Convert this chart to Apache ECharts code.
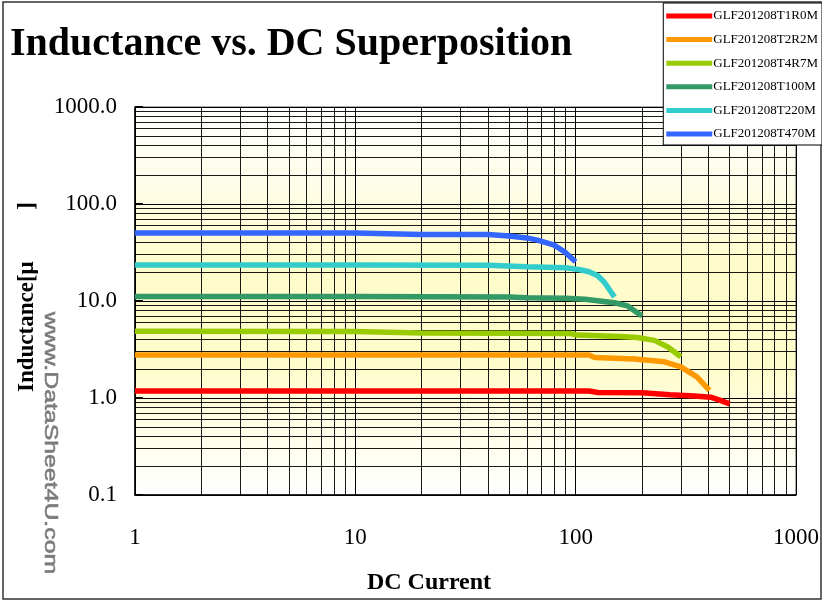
<!DOCTYPE html>
<html>
<head>
<meta charset="utf-8">
<script src="https://cdn.jsdelivr.net/npm/echarts@6/dist/echarts.min.js"></script>
<style>html,body{margin:0;padding:0;background:#fff}#c{width:822px;height:601px}</style>
</head>
<body>
<div id="c"></div>
<script>
// ---- data ----
const seriesNames = ['GLF201208T1R0M','GLF201208T2R2M','GLF201208T4R7M','GLF201208T100M','GLF201208T220M','GLF201208T470M'];
const seriesColors = ['#ff0000','#ff9900','#99cc00','#339966','#33cccc','#3366ff'];

const current1R0 = [1, 10, 50, 100, 115, 126, 200, 268, 346, 410, 450, 500];
const induct1R0  = [1.18, 1.18, 1.18, 1.18, 1.18, 1.14, 1.13, 1.08, 1.05, 1.02, 0.95, 0.87];

const current2R2 = [1, 10, 50, 100, 115, 122, 185, 253, 300, 355, 405];
const induct2R2  = [2.78, 2.78, 2.78, 2.78, 2.77, 2.62, 2.52, 2.36, 2.09, 1.65, 1.2];

const current4R7 = [1, 10, 20, 50, 95, 102, 160, 190, 228, 262, 300];
const induct4R7  = [4.87, 4.85, 4.67, 4.65, 4.62, 4.45, 4.3, 4.2, 3.93, 3.36, 2.66];

const current100 = [1, 10, 50, 60, 90, 110, 150, 172, 200];
const induct100  = [11.1, 11.1, 11.0, 10.8, 10.7, 10.4, 9.6, 8.9, 7.0];

const current220 = [1, 10, 40, 60, 90, 105, 115, 126, 135, 150];
const induct220  = [23.5, 23.5, 23.4, 22.6, 22.0, 21.0, 20.0, 18.2, 15.6, 11.0];

const current470 = [1, 10, 20, 40, 50, 60, 67, 80, 89, 100];
const induct470  = [50.2, 50.2, 48.5, 48.4, 46.9, 44.7, 42.4, 37.6, 32.2, 25.4];

const xTickValues = [1, 10, 100, 1000];
const yTickValues = [0.1, 1, 10, 100, 1000];
const xMinorGrid = [2,3,4,5,6,7,8,9,20,30,40,50,60,70,80,90,200,300,400,500,600,700,800,900];
const yMinorGrid = [0.2,0.3,0.4,0.5,0.6,0.7,0.8,0.9,2,3,4,5,6,7,8,9,20,30,40,50,60,70,80,90,200,300,400,500,600,700,800,900];

const titleText = 'Inductance vs. DC Superposition';
const xTitle = 'DC Current';
const yTitle = 'Inductance[\u03bc         ]';
const watermark = 'www.DataSheet4U.com';

// ---- build ----
const pairs = (xs, ys) => xs.map((x, i) => [x, ys[i]]);
const allData = [
  pairs(current1R0, induct1R0),
  pairs(current2R2, induct2R2),
  pairs(current4R7, induct4R7),
  pairs(current100, induct100),
  pairs(current220, induct220),
  pairs(current470, induct470)
];

const serif = 'Liberation Serif, Times New Roman, serif';

const series = [{
  name: 'grid', type: 'line', data: [], z: 1, silent: true,
  markLine: {
    silent: true, symbol: ['none','none'], label: {show: false},
    lineStyle: {color: '#000', width: 1, type: 'solid', opacity: 0.9},
    emphasis: {disabled: true},
    animation: false,
    data: xMinorGrid.map(v => ({xAxis: v})).concat(yMinorGrid.map(v => ({yAxis: v})))
  }
}];
allData.forEach((d, i) => {
  series.push({
    name: seriesNames[i], type: 'line', data: d, z: 5,
    showSymbol: false, symbol: 'none',
    lineStyle: {color: seriesColors[i], width: 5.5},
    itemStyle: {color: seriesColors[i]},
    emphasis: {disabled: true}
  });
});

const chart = echarts.init(document.getElementById('c'), null, {renderer: 'canvas'});
chart.setOption({
  animation: false,
  backgroundColor: '#ffffff',
  title: {
    text: titleText, left: 5, top: 20,
    textStyle: {fontFamily: serif, fontSize: 40, fontWeight: 'bold', color: '#000'}
  },
  legend: {
    data: seriesNames, orient: 'vertical', right: 0, top: 3,
    backgroundColor: '#fff', borderColor: '#000', borderWidth: 1,
    padding: [6, 4, 4, 3], itemGap: 9.6,
    icon: 'rect', itemWidth: 46, itemHeight: 5,
    textStyle: {fontFamily: serif, fontSize: 13, color: '#000', lineHeight: 14, padding: [0,0,0,-4]},
    z: 10
  },
  grid: {
    left: 135, right: 23, top: 107, bottom: 106,
    show: true, borderColor: '#555', borderWidth: 1,
    backgroundColor: {
      type: 'linear', x: 0, y: 0, x2: 0, y2: 1,
      colorStops: [
        {offset: 0, color: '#ffffff'},
        {offset: 0.2, color: '#fefde8'},
        {offset: 0.4, color: '#fffccc'},
        {offset: 0.68, color: '#fffccc'},
        {offset: 0.82, color: '#fefde6'},
        {offset: 1, color: '#ffffff'}
      ]
    }
  },
  xAxis: {
    type: 'log', logBase: 10, min: 1, max: 1000, interval: 1,
    axisLine: {show: true, lineStyle: {color: '#000', width: 1.5}},
    axisTick: {show: false},
    axisLabel: {
      fontFamily: serif, fontSize: 23, color: '#000', margin: 31,
      showMinLabel: true, showMaxLabel: true,
      formatter: v => String(xTickValues.find(t => Math.abs(t - v) / t < 1e-6) || Math.round(v))
    },
    splitLine: {show: true, lineStyle: {color: '#000', width: 1}}
  },
  yAxis: {
    type: 'log', logBase: 10, min: 0.1, max: 1000, interval: 1,
    axisLine: {show: true, lineStyle: {color: '#000', width: 1.5}},
    axisTick: {show: true, inside: true, length: 8, lineStyle: {color: '#000', width: 2}},
    axisLabel: {
      fontFamily: serif, fontSize: 23, color: '#000', margin: 18,
      showMinLabel: true, showMaxLabel: true,
      formatter: v => {
        const t = yTickValues.find(t => Math.abs(t - v) / t < 1e-6);
        return (t !== undefined ? t : v).toFixed(1);
      }
    },
    splitLine: {show: true, lineStyle: {color: '#000', width: 1}}
  },
  graphic: [
    {type: 'rect', shape: {x: 3, y: 2, width: 818, height: 597}, style: {fill: 'none', stroke: '#333', lineWidth: 1.5}, z: 0, silent: true},
    {type: 'text', x: 27, y: 297, rotation: Math.PI / 2,
      style: {text: yTitle, fontFamily: serif, fontSize: 23, fontWeight: 'bold', fill: '#000', textAlign: 'center', textVerticalAlign: 'middle'}, z: 20},
    {type: 'text', x: 50, y: 443, rotation: -Math.PI / 2, scaleX: 1.38,
      style: {text: watermark, fontFamily: 'Liberation Sans, Arial, sans-serif', fontSize: 18, fill: '#7a7a7a', stroke: '#8a8a8a', lineWidth: 0.6, textAlign: 'center', textVerticalAlign: 'middle'}, z: 20},
    {type: 'text', x: 429, y: 583,
      style: {text: xTitle, fontFamily: serif, fontSize: 24, fontWeight: 'bold', fill: '#000', textAlign: 'center', textVerticalAlign: 'middle'}, z: 20}
  ],
  series: series
});
</script>
</body>
</html>
